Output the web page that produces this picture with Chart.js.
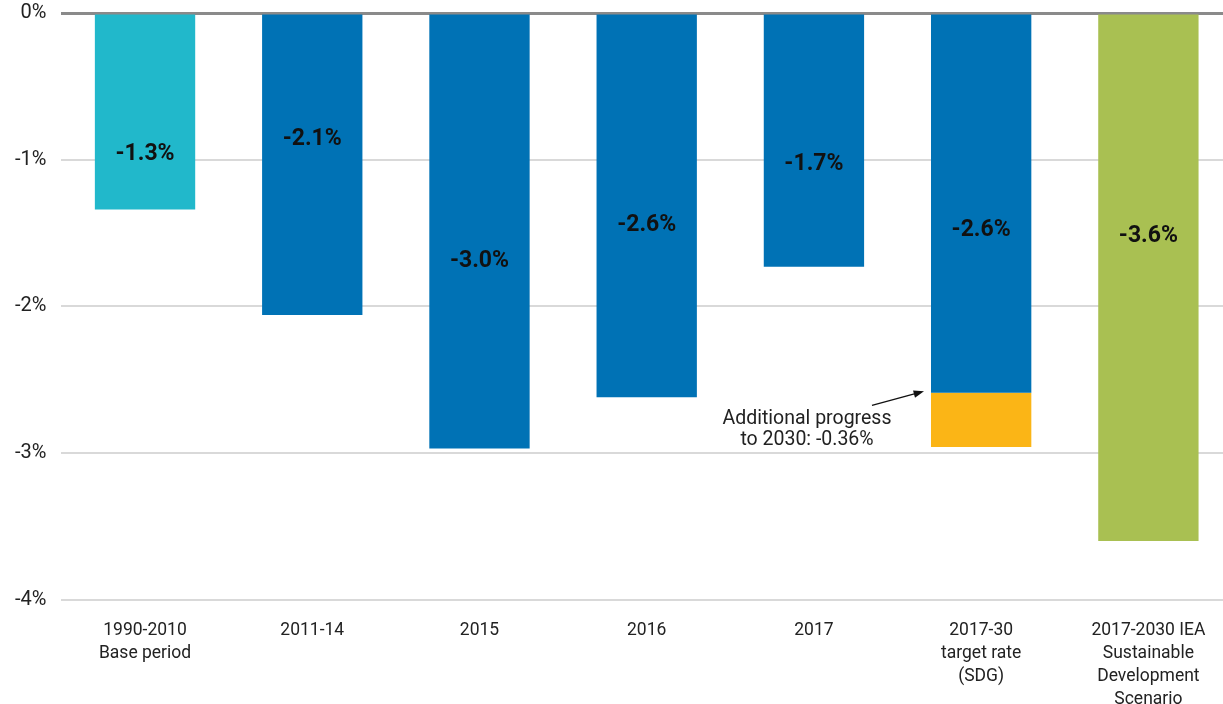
<!DOCTYPE html>
<html lang="en">
<head>
    <meta charset="UTF-8">
    <script src="https://cdn.jsdelivr.net/npm/chart.js"></script>
    <title>Energy intensity improvement</title>
    <style>
        body { margin: 0; background: #fff; }
        #frame { width: 1223px; height: 704px; overflow: hidden; position: relative; }
        #wrap { position: absolute; left: 0; top: -14px; width: 1232px; height: 736px; }
    </style>
</head>
<body>
<div id="frame"><div id="wrap"><canvas id="intensityChart"></canvas></div></div>

<script>
    // categories (multi-line tick labels)
    const categories = [
        ['1990-2010', 'Base period'],
        '2011-14',
        '2015',
        '2016',
        '2017',
        ['2017-30', 'target rate', '(SDG)'],
        ['2017-2030 IEA', 'Sustainable', 'Development', 'Scenario']
    ];
    // rate of improvement, % per year
    const rates = [-1.34, -2.06, -2.97, -2.62, -1.73, -2.59, -3.60];
    const extraProgress = [null, null, null, null, null, -0.37, null];
    const rateLabels = ['-1.3%', '-2.1%', '-3.0%', '-2.6%', '-1.7%', '-2.6%', '-3.6%'];
    // where each label sits along the y axis (value units)
    const labelY = [-0.96, -0.86, -1.69, -1.45, -1.03, -1.48, -1.52];
    const yTicks = [0, -1, -2, -3, -4];
    const noteText = ['Additional progress', 'to 2030: -0.36%'];

    const barColors = ['#21b8cb', '#0072b5', '#0072b5', '#0072b5', '#0072b5', '#0072b5', '#a9c052'];

    const valueLabels = {
        id: 'valueLabels',
        afterDatasetsDraw(chart) {
            const c = chart.ctx;
            const y = chart.scales.y;
            const bars = chart.getDatasetMeta(0).data;
            c.save();
            c.font = 'bold 23px Roboto';
            c.fillStyle = '#111';
            c.textAlign = 'center';
            c.textBaseline = 'middle';
            bars.forEach((b, i) => {
                c.fillText(rateLabels[i], b.x, y.getPixelForValue(labelY[i]));
            });

            // annotation with arrow pointing at the orange segment
            const b5 = bars[5];
            const left = b5.x - b5.width / 2;
            const tipX = left - 7;
            const tipY = y.getPixelForValue(-2.58);
            const tailX = left - 59;
            const tailY = tipY + 14;
            c.strokeStyle = '#111';
            c.fillStyle = '#111';
            c.lineWidth = 1.3;
            c.beginPath();
            c.moveTo(tailX, tailY);
            c.lineTo(tipX - 6, tipY + 1.6);
            c.stroke();
            const ang = Math.atan2(tipY - tailY, tipX - tailX);
            c.beginPath();
            c.moveTo(tipX, tipY);
            c.lineTo(tipX - 11 * Math.cos(ang - 0.35), tipY - 11 * Math.sin(ang - 0.35));
            c.lineTo(tipX - 11 * Math.cos(ang + 0.35), tipY - 11 * Math.sin(ang + 0.35));
            c.closePath();
            c.fill();

            c.font = '19.5px Roboto';
            c.fillStyle = '#222';
            const tx = left - 124;
            c.fillText(noteText[0], tx, y.getPixelForValue(-2.77));
            c.fillText(noteText[1], tx, y.getPixelForValue(-2.91));
            c.restore();
        }
    };

    const ctx = document.getElementById('intensityChart').getContext('2d');
    const intensityChart = new Chart(ctx, {
        type: 'bar',
        data: {
            labels: categories,
            datasets: [{
                data: rates,
                backgroundColor: barColors,
                barPercentage: 0.6,
                categoryPercentage: 1
            }, {
                data: extraProgress,
                backgroundColor: '#fbb516',
                barPercentage: 0.6,
                categoryPercentage: 1
            }]
        },
        options: {
            responsive: true,
            maintainAspectRatio: false,
            animation: false,
            layout: { padding: 0 },
            plugins: {
                legend: { display: false },
                tooltip: { enabled: false }
            },
            scales: {
                x: {
                    stacked: true,
                    border: { display: false },
                    grid: { display: false },
                    ticks: {
                        color: '#222',
                        font: { family: 'Roboto', size: 17.5, lineHeight: 1.32 },
                        padding: 11,
                        maxRotation: 0,
                        autoSkip: false
                    }
                },
                y: {
                    stacked: true,
                    min: -4,
                    max: 0,
                    border: { display: false },
                    afterBuildTicks(axis) {
                        axis.ticks = yTicks.map(v => ({ value: v }));
                    },
                    grid: {
                        drawTicks: false,
                        color: ctx => ctx.tick && ctx.tick.value === 0 ? '#8a8a8a' : '#d9d9d9',
                        lineWidth: ctx => ctx.tick && ctx.tick.value === 0 ? 3 : 2
                    },
                    ticks: {
                        color: '#222',
                        font: { family: 'Roboto', size: 20 },
                        padding: 15,
                        callback: v => v + '%'
                    }
                }
            }
        },
        plugins: [valueLabels]
    });
</script>
</body>
</html>
